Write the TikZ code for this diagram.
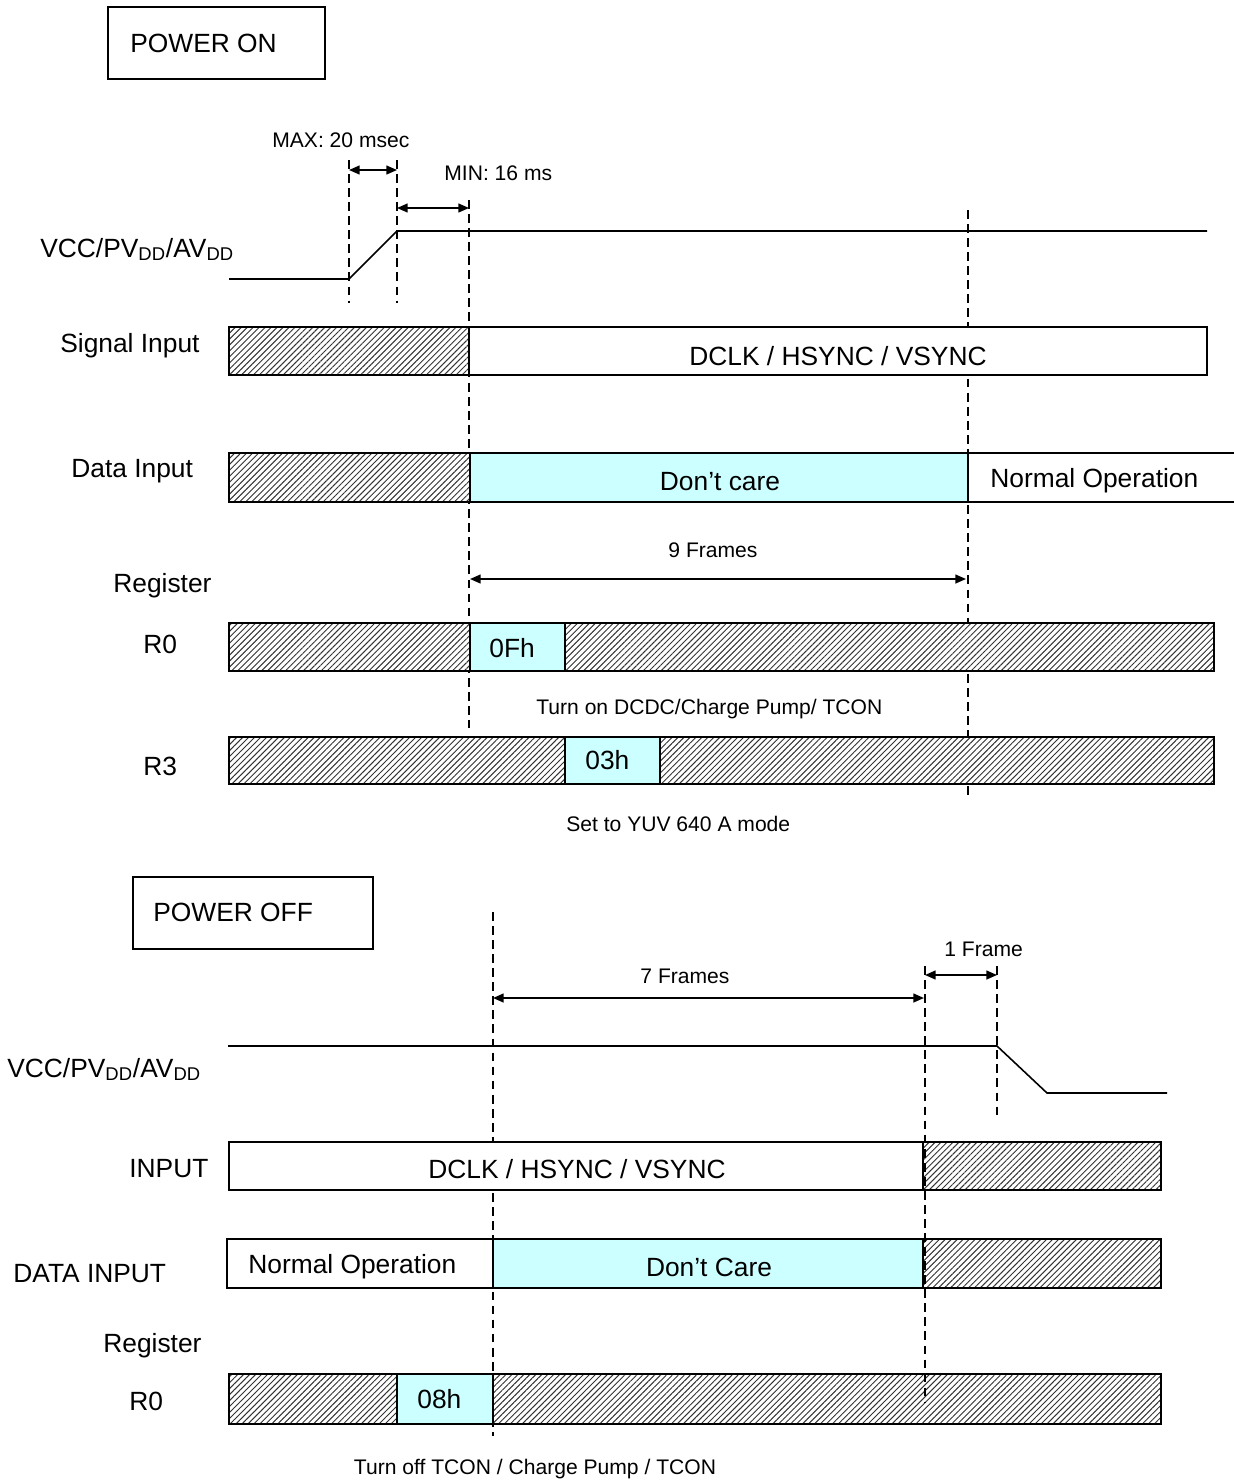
\documentclass[tikz,border=0pt]{standalone}
\usepackage{fontspec}
\setmainfont{Liberation Sans}
\usepackage{xcolor}
\usepackage{tikz}
\usetikzlibrary{arrows.meta, patterns.meta}
\definecolor{dontcare}{RGB}{204,255,255}
\tikzset{
  bigtxt/.style={font=\fontsize{15}{18}\selectfont, inner sep=0pt, anchor=base west},
  smalltxt/.style={font=\fontsize{12}{14}\selectfont, inner sep=0pt, anchor=base west},
  hatch/.style={draw=black, line width=1.1pt, preaction={fill=white},
                pattern={Lines[angle=45, distance=2.4pt, line width=0.55pt]}, pattern color=black!80},
  plain/.style={draw=black, line width=1.1pt, fill=white},
  care/.style={draw=black, line width=1.1pt, fill=dontcare},
  titlebox/.style={draw=black, line width=0.9pt},
  wave/.style={line width=0.9pt},
  marker/.style={dash pattern=on 5pt off 3pt, line width=0.9pt},
  dim/.style={{Triangle[length=6pt,width=5pt]}-{Triangle[length=6pt,width=5pt]}, line width=0.9pt},
}

\begin{document}
\begin{tikzpicture}[x=0.02cm, y=-0.02cm]
\useasboundingbox (0,0) rectangle (1234,1481);

% ---------- power on ----------
\draw[titlebox] (108,7) rectangle (325,79);
\node[bigtxt] (pon) at (130,52) {POWER ON};

% time markers (behind the bars)
\draw[marker] (349,160) -- (349,303);
\draw[marker] (397,160) -- (397,303);
\draw[marker] (469,200) -- (469,728);
\draw[marker] (968,210) -- (968,800);

\coordinate (ta) at (349,170);
\coordinate (tb) at (397,170);
\coordinate (tc) at (397,208);
\coordinate (td) at (469,208);
\draw[dim] (ta) -- (tb);
\draw[dim] (tc) -- (td);
\node[smalltxt] (tmax) at (272,147) {MAX: 20 msec};
\node[smalltxt] (tmin) at (444,180) {MIN: 16 ms};

\node[bigtxt] (vcc1) at (40,257) {VCC/PV\textsubscript{DD}/AV\textsubscript{DD}};
\draw[wave] (229,279) -- (349,279) -- (397,231) -- (1207,231);

\node[bigtxt] (sig) at (60,352) {Signal Input};
\draw[hatch] (229,327) rectangle (469,375);
\draw[plain] (469,327) rectangle (1207,375);
\node[bigtxt, anchor=base] (sigtxt) at (838,365) {DCLK / HSYNC / VSYNC};

\node[bigtxt] (dat) at (71,477) {Data Input};
\draw[hatch] (229,453) rectangle (470,502);
\draw[care] (470,453) rectangle (968,502);
\draw[line width=1.1pt] (968,453) -- (1234,453) (968,502) -- (1234,502);
\node[bigtxt, anchor=base] (dc1) at (720,490) {Don’t care};
\node[bigtxt] (no1) at (990,487) {Normal Operation};

\coordinate (fa) at (470,579);
\coordinate (fb) at (966,579);
\draw[dim] (fa) -- (fb);
\node[smalltxt, anchor=base] (f9) at (713,557) {9 Frames};

\node[bigtxt] (reg1) at (113,592) {Register};
\node[bigtxt] (r0a) at (143,653) {R0};
\draw[hatch] (229,623) rectangle (470,671);
\draw[care] (470,623) rectangle (565,671);
\draw[hatch] (565,623) rectangle (1214,671);
\node[bigtxt] (v0f) at (489,657) {0Fh};
\node[smalltxt] (on) at (536,714) {Turn on DCDC/Charge Pump/ TCON};

\node[bigtxt] (r3) at (143,775) {R3};
\draw[hatch] (229,737) rectangle (565,784);
\draw[care] (565,737) rectangle (660,784);
\draw[hatch] (660,737) rectangle (1214,784);
\node[bigtxt] (v03) at (585,769) {03h};
\node[smalltxt] (yuv) at (566,831) {Set to YUV 640 A mode};

% ---------- power off ----------
\draw[titlebox] (133,877) rectangle (373,949);
\node[bigtxt] (poff) at (153,921) {POWER OFF};

% time markers (behind the bars)
\draw[marker] (493,912) -- (493,1436);
\draw[marker] (997,966) -- (997,1117);

\coordinate (sa) at (493,998);
\coordinate (sb) at (924,998);
\coordinate (sc) at (925,975);
\coordinate (sd) at (997,975);
\draw[dim] (sa) -- (sb);
\draw[dim] (sc) -- (sd);
\node[smalltxt, anchor=base] (f7) at (685,983) {7 Frames};
\node[smalltxt] (f1) at (944,956) {1 Frame};

\node[bigtxt] (vcc2) at (7,1077) {VCC/PV\textsubscript{DD}/AV\textsubscript{DD}};
\draw[wave] (228,1046) -- (997,1046) -- (1047,1093) -- (1167,1093);

\node[bigtxt] (inp) at (129,1177) {INPUT};
\draw[plain] (229,1142) rectangle (923,1190);
\draw[hatch] (923,1142) rectangle (1161,1190);
\node[bigtxt, anchor=base] (inptxt) at (577,1178) {DCLK / HSYNC / VSYNC};

\node[bigtxt] (dinp) at (13,1282) {DATA INPUT};
\draw[plain] (227,1239) rectangle (493,1288);
\draw[care] (493,1239) rectangle (923,1288);
\draw[hatch] (923,1239) rectangle (1161,1288);
\node[bigtxt] (no2) at (248,1273) {Normal Operation};
\node[bigtxt, anchor=base] (dc2) at (709,1276) {Don’t Care};

\node[bigtxt] (reg2) at (103,1352) {Register};
\node[bigtxt] (r0b) at (129,1410) {R0};
\draw[hatch] (229,1374) rectangle (397,1424);
\draw[care] (397,1374) rectangle (493,1424);
\draw[hatch] (493,1374) rectangle (1161,1424);
\node[bigtxt] (v08) at (417,1408) {08h};
\node[smalltxt, anchor=base] (off) at (535,1474) {Turn off TCON / Charge Pump / TCON};

% this one runs over the bars
\draw[marker] (925,966) -- (925,1402);
\end{tikzpicture}
\end{document}
